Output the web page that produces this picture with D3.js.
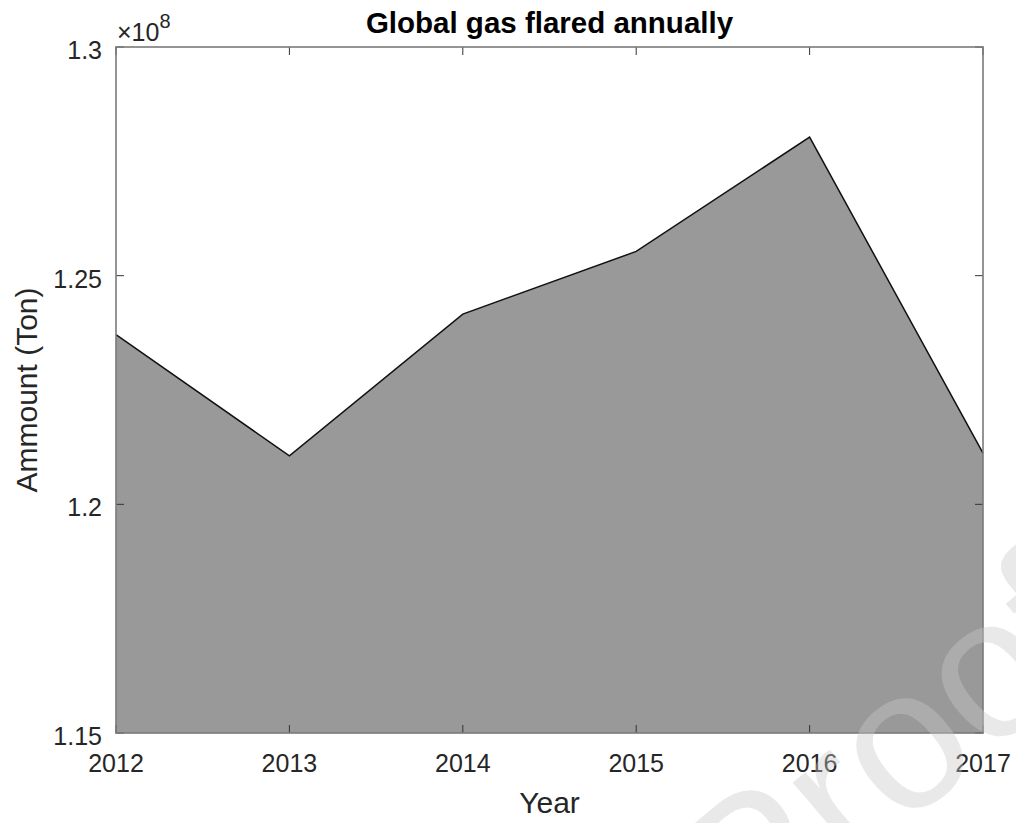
<!DOCTYPE html>
<html>
<head>
  <meta charset="UTF-8">
  <title>Global gas flared annually</title>
  <style>
    body { margin: 0; background: #fff; }
    svg text { font-family: "Liberation Sans", Arial, Helvetica, sans-serif; fill: #262626; }
  </style>
</head>
<body>
<svg></svg>
<script src="https://d3js.org/d3.v7.min.js"></script>
<script>

let width = 1016, height = 823;

// data (amount in units of 1e8 tons)
let years = [2012, 2013, 2014, 2015, 2016, 2017];
let amounts = [1.2371, 1.2106, 1.2416, 1.2553, 1.2803, 1.2112];
let yTicks = [1.15, 1.2, 1.25, 1.3];
let yTickLabels = ["1.15", "1.2", "1.25", "1.3"];

let data = years.map((y, i) => ({ year: y, value: amounts[i] }));

let margin = { left: 116, right: 33, top: 47, bottom: 90 };

let svg = d3.select("svg")
    .attr("width", width)
    .attr("height", height);

let x = d3.scaleLinear()
    .domain([2012, 2017])
    .range([margin.left, width - margin.right]);

let y = d3.scaleLinear()
    .domain([1.15, 1.3])
    .range([height - margin.bottom, margin.top]);

// filled area
let area = d3.area()
    .x(d => x(d.year))
    .y0(y(1.15))
    .y1(d => y(d.value));

svg.append("path")
    .datum(data)
    .attr("d", area)
    .attr("fill", "#999999");

let line = d3.line()
    .x(d => x(d.year))
    .y(d => y(d.value));

svg.append("path")
    .datum(data)
    .attr("d", line)
    .attr("fill", "none")
    .attr("stroke", "#111")
    .attr("stroke-width", 1.5);

// axes box with inward ticks on all sides
let tickLen = 8;
let x0 = x.range()[0], x1 = x.range()[1];
let y0 = y.range()[0], y1 = y.range()[1];

let ticks = svg.append("g").attr("stroke", "#333").attr("stroke-width", 1);

years.forEach(t => {
    ticks.append("line").attr("x1", x(t)).attr("x2", x(t)).attr("y1", y0).attr("y2", y0 - tickLen);
    ticks.append("line").attr("x1", x(t)).attr("x2", x(t)).attr("y1", y1).attr("y2", y1 + tickLen);
});
yTicks.forEach(t => {
    ticks.append("line").attr("x1", x0).attr("x2", x0 + tickLen).attr("y1", y(t)).attr("y2", y(t));
    ticks.append("line").attr("x1", x1).attr("x2", x1 - tickLen).attr("y1", y(t)).attr("y2", y(t));
});

svg.append("rect")
    .attr("x", x0)
    .attr("y", y1)
    .attr("width", x1 - x0)
    .attr("height", y0 - y1)
    .attr("fill", "none")
    .attr("stroke", "#7a7a7a")
    .attr("stroke-width", 1.6);

// tick labels
svg.append("g")
  .selectAll("text")
  .data(years)
  .enter()
  .append("text")
    .attr("x", d => x(d))
    .attr("y", y0 + 39)
    .attr("text-anchor", "middle")
    .style("font-size", "25px")
    .text(d => d);

svg.append("g")
  .selectAll("text")
  .data(yTicks)
  .enter()
  .append("text")
    .attr("x", x0 - 14)
    .attr("y", d => y(d) + 12)
    .attr("text-anchor", "end")
    .style("font-size", "25px")
    .text((d, i) => yTickLabels[i]);

// exponent
let expo = svg.append("text")
    .attr("x", x0 + 1)
    .attr("y", y1 - 6)
    .style("font-size", "25px");
expo.append("tspan").text("\u00d710");
expo.append("tspan").attr("dy", -13).style("font-size", "20px").text("8");

// title and axis labels
svg.append("text")
    .attr("x", (x0 + x1) / 2)
    .attr("y", 33)
    .attr("text-anchor", "middle")
    .style("font-size", "29.5px")
    .style("font-weight", "bold")
    .style("fill", "#000")
    .text("Global gas flared annually");

svg.append("text")
    .attr("x", (x0 + x1) / 2)
    .attr("y", 813)
    .attr("text-anchor", "middle")
    .style("font-size", "30px")
    .text("Year");

svg.append("text")
    .attr("transform", "translate(37," + ((y0 + y1) / 2) + ") rotate(-90)")
    .attr("text-anchor", "middle")
    .style("font-size", "30px")
    .text("Ammount (Ton)");

// watermark
svg.append("text")
    .attr("transform", "translate(748,958) rotate(-40)")
    .style("font-size", "200px")
    .style("fill", "rgba(200,200,200,0.4)")
    .text("Proof");

</script>
</body>
</html>
